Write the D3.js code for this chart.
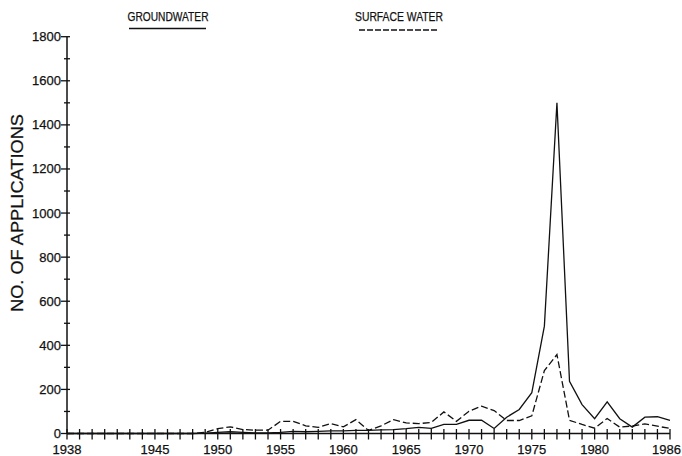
<!DOCTYPE html>
<html>
<head>
<meta charset="utf-8">
<script src="https://cdn.jsdelivr.net/npm/d3@7"></script>
<style>
  html, body { margin: 0; padding: 0; background: #fff; }
  svg { display: block; font-family: "Liberation Sans", Arial, Helvetica, sans-serif; }
</style>
</head>
<body>
<svg id="chart" width="682" height="456"></svg>
<script>
const years = d3.range(1938, 1987);
const groundwater = [
  0, 0, 0, 0, 0, 0, 0, 0, 0, 0, 0,      // 1938-1948
  2, 5, 8, 5, 3, 3, 5, 10, 8, 10, 12,   // 1949-1959
  12, 14, 14, 16, 18, 22, 28, 23, 41, 41, // 1960-1969
  60, 60, 23, 74, 109, 185, 487, 1500, 237, 131, // 1970-1979
  67, 144, 67, 29, 74, 76, 59           // 1980-1986
];
const surfaceWater = [
  0, 0, 0, 0, 0, 0, 0, 0, 0, 0, 0,      // 1938-1948
  5, 22, 30, 18, 15, 15, 55, 55, 35, 28, 45, // 1949-1959
  30, 63, 14, 35, 63, 48, 45, 50, 98, 55, // 1960-1969
  101, 124, 104, 59, 59, 80, 285, 358, 60, 41, // 1970-1979
  24, 68, 29, 34, 44, 33, 23            // 1980-1986
];
const xTickLabels = [1938, 1945, 1950, 1955, 1960, 1965, 1970, 1975, 1980, 1986];
const yTickLabels = [0, 200, 400, 600, 800, 1000, 1200, 1400, 1600, 1800];
const yTitle = "NO. OF APPLICATIONS";
const seriesNames = ["GROUNDWATER", "SURFACE WATER"];

const svg = d3.select("#chart");
const ink = "#111";

const x = d3.scaleLinear().domain([1938, 1986]).range([67, 670]);
const y = d3.scaleLinear().domain([0, 1800]).range([433.5, 36.7]);

// Y axis
const gy = svg.append("g");
gy.append("line").attr("x1", x(1938)).attr("x2", x(1938))
  .attr("y1", y(0)).attr("y2", y(1800))
  .attr("stroke", ink).attr("stroke-width", 1.5);
d3.range(0, 1801, 100).forEach(v => {
  const major = v % 200 === 0;
  gy.append("line")
    .attr("x1", x(1938) - (major ? 6 : 3)).attr("x2", x(1938) + 3)
    .attr("y1", y(v)).attr("y2", y(v))
    .attr("stroke", ink).attr("stroke-width", 1.3);
});
gy.selectAll("text.ylab").data(yTickLabels).join("text")
  .attr("class", "ylab")
  .attr("x", x(1938) - 6).attr("y", d => y(d) + 4.5)
  .attr("text-anchor", "end").attr("font-size", 13).attr("fill", ink)
  .attr("stroke", ink).attr("stroke-width", 0.25)
  .text(d => d);

svg.append("text")
  .attr("transform", `translate(23,${(113 + 313) / 2}) rotate(-90)`)
  .attr("text-anchor", "middle").attr("font-size", 17).attr("fill", ink)
  .attr("stroke", ink).attr("stroke-width", 0.25)
  .attr("textLength", 198).attr("lengthAdjust", "spacingAndGlyphs")
  .text(yTitle);

// X axis
const gx = svg.append("g");
gx.append("line").attr("x1", x(1938)).attr("x2", x(1986))
  .attr("y1", y(0)).attr("y2", y(0))
  .attr("stroke", ink).attr("stroke-width", 1.5);
years.forEach(yr => {
  gx.append("line").attr("x1", x(yr)).attr("x2", x(yr))
    .attr("y1", y(0) - 4.5).attr("y2", y(0) + 6)
    .attr("stroke", ink).attr("stroke-width", 1.3);
});
const lastLabel = xTickLabels[xTickLabels.length - 1];
gx.selectAll("text.xlab").data(xTickLabels).join("text")
  .attr("class", "xlab")
  .attr("x", d => d === lastLabel ? 681 : x(d)).attr("y", 454)
  .attr("text-anchor", d => d === lastLabel ? "end" : "middle")
  .attr("font-size", 13).attr("fill", ink)
  .attr("stroke", ink).attr("stroke-width", 0.25)
  .text(d => d);

// Lines
const line = d3.line().x((d, i) => x(years[i])).y(d => y(d));
svg.append("path").datum(surfaceWater)
  .attr("d", line).attr("fill", "none")
  .attr("stroke", ink).attr("stroke-width", 1.3)
  .attr("stroke-dasharray", "7,3");
svg.append("path").datum(groundwater)
  .attr("d", line).attr("fill", "none")
  .attr("stroke", ink).attr("stroke-width", 1.3);

// Legend
const legend = [
  { name: seriesNames[0], cx: 168, x1: 129, x2: 206, ly: 28.5, dash: null, w: 81 },
  { name: seriesNames[1], cx: 399, x1: 359, x2: 437, ly: 30, dash: "6,2", w: 88 }
];
legend.forEach(l => {
  svg.append("text").attr("x", l.cx).attr("y", 21)
    .attr("text-anchor", "middle").attr("font-size", 12.5).attr("fill", ink)
    .attr("stroke", ink).attr("stroke-width", 0.25)
    .attr("textLength", l.w).attr("lengthAdjust", "spacingAndGlyphs")
    .text(l.name);
  svg.append("line").attr("x1", l.x1).attr("x2", l.x2)
    .attr("y1", l.ly).attr("y2", l.ly)
    .attr("stroke", ink).attr("stroke-width", 1.3)
    .attr("stroke-dasharray", l.dash);
});
</script>
</body>
</html>
